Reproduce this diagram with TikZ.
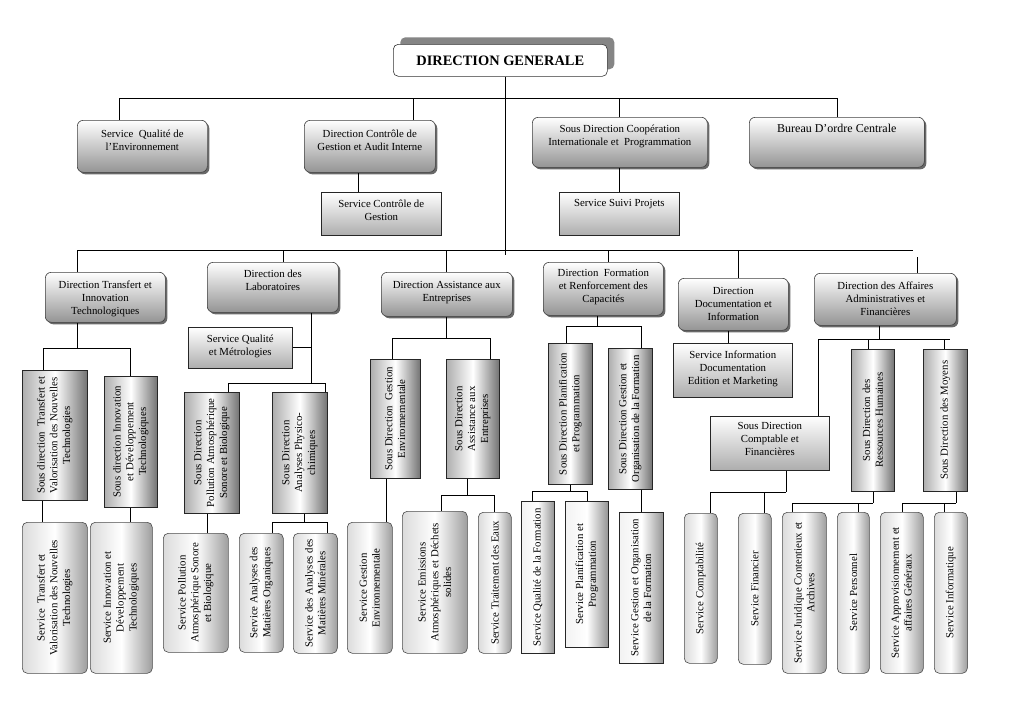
\documentclass[tikz,border=0pt]{standalone}
\usepackage{fontspec}
\setmainfont{Liberation Serif}
\usepackage{graphicx}
\usetikzlibrary{shadows}

% horizontal-text box: style, name, x1, y1, x2, y2, text, top pad
\newcommand{\mkH}[8]{%
  \pgfmathsetmacro{\bw}{#5-#3}\pgfmathsetmacro{\bh}{#6-#4}%
  \node[#1, anchor=north west, minimum width=\bw pt, minimum height=\bh pt, inner sep=0pt] (#2) at (#3,#4)
    {\parbox[c][\bh pt][t]{\bw pt}{\vspace*{#8pt}\centering #7\par}};}
% vertical-text box: style, name, x1, y1, x2, y2, text
\newcommand{\mkV}[7]{%
  \pgfmathsetmacro{\bw}{#5-#3}\pgfmathsetmacro{\bh}{#6-#4}%
  \node[#1, anchor=north west, minimum width=\bw pt, minimum height=\bh pt, inner sep=0pt] (#2) at (#3,#4)
    {\rotatebox{90}{\parbox{\bh pt}{\centering #7\par}}};}
% connectors
\newcommand{\mkdrop}[3]{\coordinate (tmp) at (#1,#2); \draw[ln] (tmp) -- (tmp |- #3.north);}
\newcommand{\mkrise}[3]{\coordinate (tmp) at (#1,#2); \draw[ln] (tmp |- #3.south) -- (tmp);}
\newcommand{\mkpair}[3]{\coordinate (tmp) at (#1,0); \draw[ln] (tmp |- #2.south) -- (tmp |- #3.north);}

\begin{document}
\begin{tikzpicture}[x=1pt,y=-1pt,
  ln/.style={draw=black, line width=0.8pt},
  rb/.style={draw=black!75, line width=0.6pt, rounded corners=6pt, top color=white, bottom color=black!42,
     drop shadow={shadow xshift=2pt, shadow yshift=-2pt, fill=black!65, opacity=0.9}},
  sqv/.style={draw=black!85, line width=0.6pt, top color=white, bottom color=black!32},
  vrb/.style={draw=black!85, line width=0.6pt, left color=black!32, right color=black!55, middle color=white},
  brb/.style={draw=black!70, line width=0.6pt, rounded corners=5pt, left color=black!14, right color=black!38, middle color=white},
  bsq/.style={draw=black!85, line width=0.6pt, left color=black!5, right color=black!42, middle color=white},
  font=\fontsize{10.8}{12.8}\selectfont]

\fill[white] (0,0) rectangle (1016,718);
\useasboundingbox (0,0) rectangle (1016,718);

% ---------- level 0
\node[draw=black!80, line width=0.6pt, fill=white, rounded corners=5pt,
      drop shadow={shadow xshift=7pt, shadow yshift=7pt, fill=black!48, opacity=1},
      minimum width=214pt, minimum height=32pt, anchor=north west,
      font=\fontsize{14.4}{16}\selectfont\bfseries] (DG) at (393,44) {DIRECTION GENERALE};

% ---------- level 1
\mkH{rb}{SQE}{77}{120}{207}{172}{Service\ \ Qualité de\\l’Environnement}{10}
\mkH{rb}{DCG}{304}{120}{435}{172}{Direction Contrôle de\\Gestion et Audit Interne}{9.5}
\mkH{rb}{SDC}{532}{117}{707}{167}{Sous Direction Coopération\\Internationale et\ \ Programmation}{7.5}
\mkH{rb}{BOC}{749}{117}{924}{167}{\fontsize{12}{14}\selectfont Bureau D’ordre Centrale}{7}
\mkH{sqv}{SCG}{321}{192}{441}{235}{Service Contrôle de\\Gestion}{7.5}
\mkH{sqv}{SSP}{559}{192}{679}{235}{Service Suivi Projets}{7.5}

% ---------- level 2
\mkH{rb}{DTIT}{45}{272}{165}{322}{Direction Transfert et\\Innovation\\Technologiques}{9}
\mkH{rb}{DL}{207}{262}{338}{312}{Direction des\\Laboratoires}{7.5}
\mkH{rb}{DAE}{381}{272}{512}{316}{Direction Assistance aux\\Entreprises}{9}
\mkH{rb}{DFRC}{543}{262}{663}{315}{Direction\ \ Formation\\et Renforcement des\\Capacités}{7.5}
\mkH{rb}{DDI}{678}{278}{788}{330}{Direction\\Documentation et\\Information}{9}
\mkH{rb}{DAAF}{814}{273}{956}{325}{Direction des Affaires\\Administratives et\\Financières}{9}

% ---------- level 3
\mkV{vrb}{SDT}{22}{370}{87}{500}{Sous direction\ \ Transfert et\\Valorisation des Nouvelles\\Technologies}
\mkV{vrb}{SDI}{104}{376}{157}{507}{Sous direction Innovation\\et Développement\\Technologiques}
\mkH{sqv}{SQM}{188}{327}{292}{368}{Service Qualité\\et Métrologies}{7.5}
\mkV{vrb}{SDP}{184}{392}{239}{513}{Sous Direction\\Pollution Atmosphérique\\Sonore et Biologique}
\mkV{vrb}{SDA}{272}{392}{327}{513}{Sous Direction\\Analyses Physico-\\chimiques}
\mkV{vrb}{SDGE}{370}{359}{420}{478}{Sous Direction\ \ Gestion\\Environnementale}
\mkV{vrb}{SDAE}{446}{359}{499}{478}{Sous Direction\\Assistance aux\\Entreprises}
\mkV{vrb}{SDPP}{548}{343}{592}{484}{Sous Direction Planification\\et Programmation}
\mkV{vrb}{SDGO}{608}{348}{652}{489}{Sous Direction Gestion et\\Organisation de la Formation}
\mkH{sqv}{SIDEM}{673}{343}{792}{397}{Service Information\\Documentation\\Edition et Marketing}{7.5}
\mkH{sqv}{SDCF}{710}{416}{829}{470}{Sous Direction\\Comptable et\\Financières}{6}
\mkV{vrb}{SDRH}{851}{349}{894}{491}{Sous Direction des\\Ressources Humaines}
\mkV{vrb}{SDM}{923}{349}{967}{491}{Sous Direction des Moyens}

% ---------- level 4
\mkV{brb}{ST}{22}{522}{87}{673}{Service\ \ Transfert et\\Valorisation des Nouvelles\\Technologies}
\mkV{brb}{SI}{90}{522}{152}{673}{Service Innovation et\\Développement\\Technologiques}
\mkV{brb}{SP}{163}{533}{228}{652}{Service Pollution\\Atmosphérique Sonore\\et Biologique}
\mkV{brb}{SAO}{239}{533}{283}{652}{Service Analyses des\\Matières Organiques}
\mkV{brb}{SAM}{293}{533}{337}{653}{Service des Analyses des\\Matières Minérales}
\mkV{brb}{SGE}{347}{522}{392}{653}{Service Gestion\\Environnementale}
\mkV{brb}{SEM}{402}{511}{467}{653}{Service Emissions\\Atmosphériques et Déchets\\solides}
\mkV{brb}{STE}{478}{512}{511}{653}{Service Traitement des Eaux}
\mkV{bsq}{SQF}{521}{501}{554}{653}{Service Qualité de la Formation}
\mkV{bsq}{SPP}{565}{501}{608}{647}{Service Planification et\\Programmation}
\mkV{bsq}{SGO}{619}{512}{663}{663}{Service Gestion et Organisation\\de la Formation}
\mkV{brb}{SCo}{684}{513}{717}{663}{Service Comptabilité}
\mkV{brb}{SFi}{738}{513}{771}{664}{Service Financier}
\mkV{brb}{SJ}{782}{512}{826}{673}{Service Juridique Contentieux et\\Archives}
\mkV{brb}{SPe}{837}{512}{869}{673}{Service Personnel}
\mkV{brb}{SAp}{880}{512}{923}{673}{Service Approvisionnement et\\affaires Généraux}
\mkV{brb}{SIn}{934}{512}{967}{673}{Service Informatique}

% ---------- connectors
\coordinate (dgx) at (505,255);
\draw[ln] (DG.south -| dgx) -- (dgx);
\draw[ln] (119,98) -- (837,98);
\mkdrop{119}{98}{SQE}
\mkdrop{413}{98}{DCG}
\mkdrop{619}{98}{SDC}
\mkdrop{837}{98}{BOC}
\mkpair{358}{DCG}{SCG}
\mkpair{619}{SDC}{SSP}

\draw[ln] (77,250) -- (913,250);
\mkdrop{77}{250}{DTIT}
\mkdrop{283}{250}{DL}
\mkdrop{446}{250}{DAE}
\mkdrop{608}{250}{DFRC}
\mkdrop{738}{250}{DDI}
\mkdrop{917}{257}{DAAF}

% DTIT
\mkrise{77}{348}{DTIT}
\draw[ln] (43,348) -- (130,348);
\mkdrop{43}{348}{SDT}
\mkdrop{130}{348}{SDI}
\mkpair{42}{SDT}{ST}
\mkpair{130}{SDI}{SI}

% DL
\mkrise{311}{383}{DL}
\coordinate (dlx) at (311,383);
\draw[ln] (SQM.east) -- (SQM.east -| dlx);
\draw[ln] (228,383) -- (325,383);
\mkdrop{228}{383}{SDP}
\mkdrop{325}{383}{SDA}
\mkpair{207}{SDP}{SP}
\mkrise{304}{522}{SDA}
\draw[ln] (272,522) -- (327,522);
\mkdrop{272}{522}{SAO}
\mkdrop{327}{522}{SAM}

% DAE
\mkrise{446}{338}{DAE}
\draw[ln] (392,338) -- (490,338);
\mkdrop{392}{338}{SDGE}
\mkdrop{490}{338}{SDAE}
\mkpair{386}{SDGE}{SGE}
\mkrise{467}{495}{SDAE}
\draw[ln] (441,495) -- (494,495);
\mkdrop{441}{495}{SEM}
\mkdrop{494}{495}{STE}

% DFRC
\mkrise{597}{326}{DFRC}
\draw[ln] (566,326) -- (641,326);
\mkdrop{566}{326}{SDPP}
\mkdrop{641}{326}{SDGO}
\mkrise{570}{491}{SDPP}
\draw[ln] (532,491) -- (587,491);
\mkdrop{532}{491}{SQF}
\mkdrop{587}{491}{SPP}
\mkpair{641}{SDGO}{SGO}

% DDI
\mkpair{728}{DDI}{SIDEM}

% DAAF
\mkrise{879}{339}{DAAF}
\draw[ln] (818,339) -- (950,339);
\mkdrop{818}{339}{SDCF}
\mkdrop{868}{339}{SDRH}
\mkdrop{944}{339}{SDM}
\mkrise{786}{492}{SDCF}
\draw[ln] (710,492) -- (786,492);
\mkdrop{710}{492}{SCo}
\mkdrop{764}{492}{SFi}
\mkrise{873}{503}{SDRH}
\draw[ln] (792,503) -- (873,503);
\mkdrop{792}{503}{SJ}
\mkdrop{858}{503}{SPe}
\mkrise{956}{503}{SDM}
\draw[ln] (902,503) -- (956,503);
\mkdrop{902}{503}{SAp}
\mkdrop{944}{503}{SIn}
\end{tikzpicture}
\end{document}
